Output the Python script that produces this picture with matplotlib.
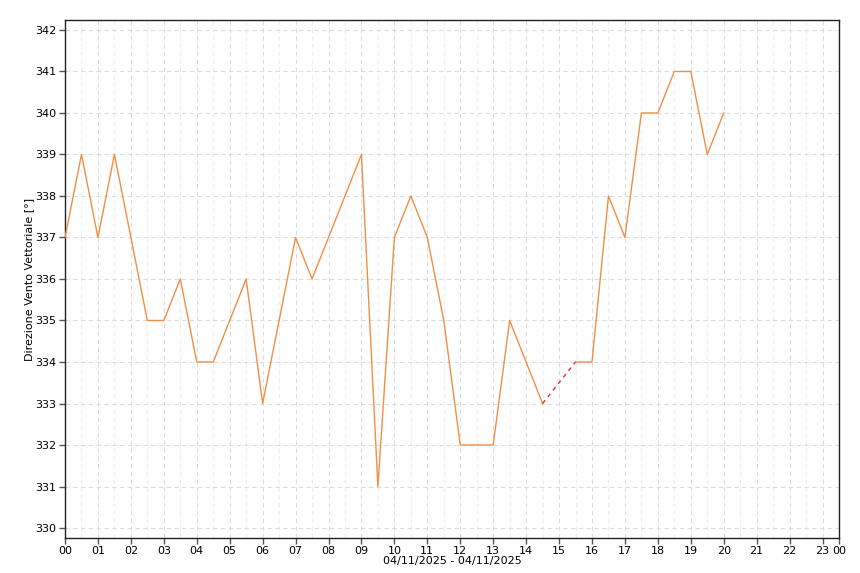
import numpy as np
import matplotlib.pyplot as plt

HOURS = [0.0, 0.5, 1.0, 1.5, 2.0, 2.5, 3.0, 3.5, 4.0, 4.5, 5.0, 5.5, 6.0, 6.5,
         7.0, 7.5, 8.0, 8.5, 9.0, 9.5, 10.0, 10.5, 11.0, 11.5, 12.0, 12.5,
         13.0, 13.5, 14.0, 14.5, 15.0, 15.5, 16.0, 16.5, 17.0, 17.5, 18.0,
         18.5, 19.0, 19.5, 20.0]
DIREZIONE = [337, 339, 337, 339, 337, 335, 335, 336, 334, 334, 335, 336, 333, 335,
             337, 336, 337, 338, 339, 331, 337, 338, 337, 335, 332, 332,
             332, 335, 334, 333, np.nan, 334, 334, 338, 337, 340, 340,
             341, 341, 339, 340]
X_TICKS = list(range(24)) + [23.5]
X_LABELS = ['%02d' % h for h in range(24)] + ['00']
Y_TICKS = list(range(330, 343))

if __name__ == "__main__":
    fig = plt.figure(figsize=(8.6, 5.73), dpi=100)
    ax = fig.add_axes([0.0756, 0.0611, 0.9, 0.904])

    x = np.array(HOURS)
    y = np.array(DIREZIONE, dtype=float)
    ax.plot(x, y, color='#f28e45', linewidth=1.0, zorder=3)

    # gap: dashed red link across missing values
    nan_idx = np.where(np.isnan(y))[0]
    for i in nan_idx:
        ax.plot([x[i - 1], x[i + 1]], [y[i - 1], y[i + 1]], color='#e03030',
                linestyle=(0, (3, 3)), linewidth=1.0, zorder=3)

    ax.set_xlim(0, 23.5)
    ax.set_ylim(329.76, 342.24)
    ax.set_xticks(X_TICKS)
    ax.set_xticklabels(X_LABELS, fontsize=8)
    ax.set_xticks(np.arange(0.5, 23.5, 1), minor=True)
    ax.set_yticks(Y_TICKS)
    ax.set_yticklabels([str(v) for v in Y_TICKS], fontsize=8)

    ax.grid(which='major', color='#dddddd', linestyle=(0, (4, 3)), linewidth=0.8)
    ax.grid(which='minor', axis='x', color='#eeeeee', linestyle=(0, (4, 3)), linewidth=0.8)
    ax.tick_params(axis='both', which='major', length=4, width=1, color='#555555', pad=2)
    ax.tick_params(axis='x', which='minor', length=0)
    for s in ax.spines.values():
        s.set_color('#222222')
        s.set_linewidth(1.0)

    ax.set_xlabel('04/11/2025 - 04/11/2025', fontsize=8, labelpad=0)
    ax.set_ylabel('Direzione Vento Vettoriale [°]', fontsize=8, labelpad=1)

    fig.savefig('out.png', dpi=100)
